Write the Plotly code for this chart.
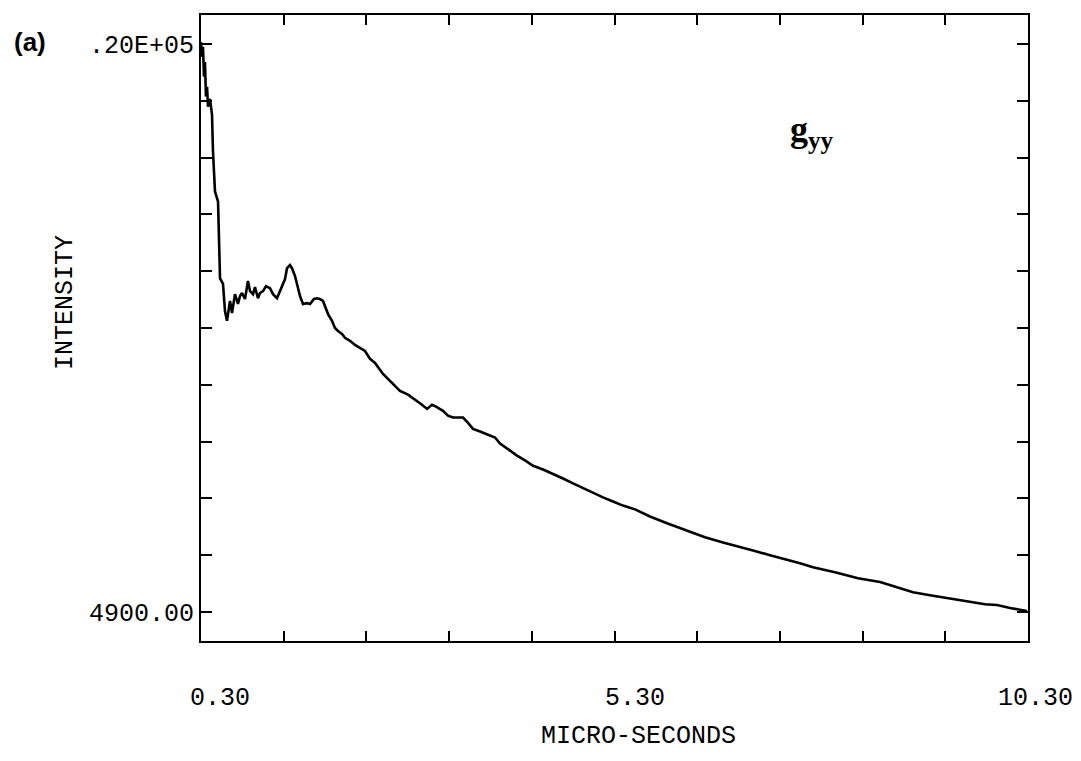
import plotly.graph_objects as go

# Data (time in micro-seconds, intensity)
time_us = [0.300, 0.312, 0.324, 0.336, 0.348, 0.360, 0.373, 0.385, 0.409, 0.433,
           0.445, 0.469, 0.506, 0.530, 0.566, 0.590, 0.614, 0.639, 0.651, 0.675,
           0.711, 0.747, 0.772, 0.796, 0.832, 0.868, 0.893, 0.929, 0.953, 0.989,
           1.013, 1.050, 1.086, 1.134, 1.171, 1.219, 1.255, 1.279, 1.316, 1.340,
           1.376, 1.400, 1.437, 1.461, 1.497, 1.533, 1.582, 1.618, 1.666, 1.703,
           1.739, 1.775, 1.812, 1.836, 1.884, 1.920, 1.957, 2.005, 2.041, 2.102,
           2.162, 2.223, 2.283, 2.344, 2.404, 2.501, 2.585, 2.706, 2.803, 2.912,
           2.972, 3.033, 3.069, 3.093, 3.142, 3.226, 3.287, 3.347, 3.408, 3.468,
           3.529, 3.589, 3.674, 3.795, 3.855, 3.916, 4.012, 4.121, 4.218, 4.315,
           4.436, 4.557, 4.678, 4.798, 4.919, 5.040, 5.161, 5.282, 5.403, 5.548,
           5.729, 5.935, 6.092, 6.213, 6.394, 6.612, 6.794, 6.975, 7.181, 7.386,
           7.543, 7.700, 7.966, 8.245, 8.511, 8.716, 8.910, 9.115, 9.321, 9.478,
           9.599, 9.780, 9.926, 10.083, 10.288]
intensity = [20050, 19660, 19920, 19130, 19520, 18600, 18860, 18330, 18540, 18120,
             17140, 16080, 15810, 13770, 13620, 12900, 12640, 13030, 13170, 12850,
             13350, 13090, 13300, 13380, 13220, 13700, 13430, 13350, 13540, 13240,
             13380, 13430, 13560, 13510, 13350, 13240, 13430, 13510, 13750, 14040,
             14120, 14040, 13830, 13620, 13300, 13090, 13110, 13090, 13220, 13240,
             13220, 13170, 12980, 12820, 12640, 12450, 12370, 12290, 12190, 12110,
             12000, 11920, 11840, 11630, 11520, 11230, 11050, 10780, 10680, 10520,
             10410, 10300, 10380, 10410, 10360, 10250, 10120, 10070, 10070, 10070,
             9930, 9770, 9700, 9590, 9540, 9380, 9220, 9060, 8930, 8790,
             8690, 8580, 8450, 8320, 8190, 8080, 7950, 7840, 7730, 7630,
             7440, 7260, 7130, 7020, 6890, 6750, 6650, 6540, 6410, 6300,
             6200, 6090, 5960, 5800, 5700, 5560, 5430, 5350, 5270, 5220,
             5170, 5110, 5090, 5010, 4930]

x_tick_vals = [0.3, 5.3, 10.3]
x_tick_text = ["0.30", "5.30", "10.30"]
x_minor_step = 1.0
y_tick_vals = [4900, 20000]
y_tick_text = ["4900.00", ".20E+05"]
y_minor_step = 1510

mono = "Liberation Mono"
FS = 25

# the page body has an 8px margin: size the figure so it fits the window
W, H = 1065, 745
L, T = 193, 5
PW, PH = 827, 628
REF_L, REF_B = 201, 641   # plot-area left / bottom in window pixels

fig = go.Figure()
fig.add_trace(go.Scatter(x=time_us, y=intensity, mode="lines",
                         line=dict(color="black", width=2.6), showlegend=False))

fig.update_layout(
    width=W, height=H,
    margin=dict(l=L, r=W - L - PW, t=T, b=H - T - PH),
    paper_bgcolor="white", plot_bgcolor="white",
    font=dict(family=mono, size=FS, color="black"),
    xaxis=dict(range=[0.3, 10.3], tickvals=x_tick_vals, ticktext=x_tick_text,
               showticklabels=False,
               ticks="inside", ticklen=10, tickwidth=2, tickcolor="black",
               minor=dict(tickmode="linear", tick0=0.3, dtick=x_minor_step,
                          ticks="inside", ticklen=10, tickwidth=2,
                          tickcolor="black", showgrid=False),
               showline=True, linecolor="black", linewidth=2, mirror="ticks",
               showgrid=False, zeroline=False),
    yaxis=dict(range=[4132, 20768], tickvals=y_tick_vals, ticktext=y_tick_text,
               ticks="inside", ticklen=11, tickwidth=2, tickcolor="black",
               minor=dict(tickmode="linear", tick0=4900, dtick=y_minor_step,
                          ticks="inside", ticklen=11, tickwidth=2,
                          tickcolor="black", showgrid=False),
               showline=True, linecolor="black", linewidth=2, mirror="ticks",
               showgrid=False, zeroline=False,
               tickfont=dict(family=mono, size=FS)),
)


def px(xp):
    return (xp - REF_L) / PW


def py(yp):
    return (REF_B - yp) / PH


# x tick labels sit low and slightly right of their ticks, as in the original
label_xshift = [19, 20, 7]
for v, t, s in zip(x_tick_vals, x_tick_text, label_xshift):
    fig.add_annotation(text=t, x=v, xref="x", y=py(699), yref="paper",
                       xshift=s, showarrow=False, xanchor="center",
                       yanchor="middle", font=dict(family=mono, size=FS))

common = dict(xref="paper", yref="paper", showarrow=False,
              xanchor="center", yanchor="middle")
fig.add_annotation(text="INTENSITY", textangle=-90, x=px(65), y=py(302),
                   font=dict(family=mono, size=FS), **common)
fig.add_annotation(text="MICRO-SECONDS", x=px(638), y=py(737),
                   font=dict(family=mono, size=FS), **common)
fig.add_annotation(text="<b>(a)</b>", x=px(30), y=py(40),
                   font=dict(family="Liberation Sans", size=26), **common)
fig.add_annotation(text="<b>g<sub>yy</sub></b>", x=px(812), y=py(130),
                   font=dict(family="Liberation Serif", size=36), **common)

fig.write_html("out.html")
